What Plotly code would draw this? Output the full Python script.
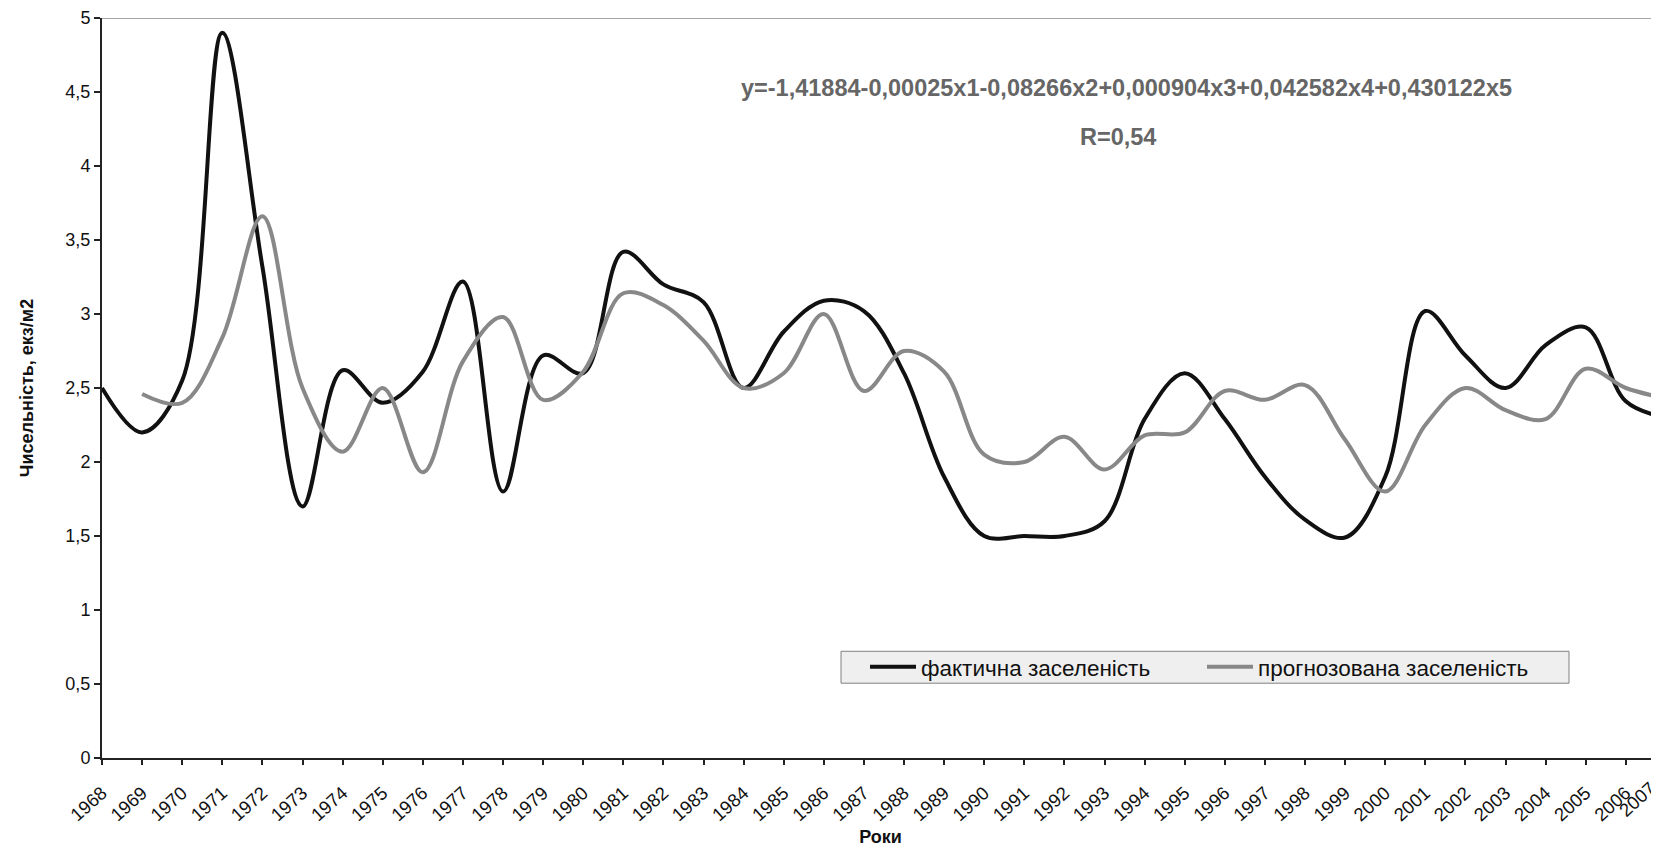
import plotly.graph_objects as go

years = list(range(1968, 2008))
year_labels = [str(y) for y in years]

actual = [2.5, 2.2, 2.55, 4.9, 3.32, 1.7, 2.62, 2.4, 2.61, 3.22,
          1.8, 2.72, 2.6, 3.42, 3.2, 3.08, 2.5, 2.88, 3.09, 3.02,
          2.6, 1.9, 1.5, 1.5, 1.5, 1.6, 2.29, 2.6, 2.29, 1.9,
          1.61, 1.49, 1.9, 3.02, 2.72, 2.5, 2.79, 2.91, 2.41, 2.3]

forecast_years = list(range(1969, 2008))
forecast = [2.46, 2.4, 2.84, 3.66, 2.5, 2.07, 2.5, 1.93, 2.68, 2.98,
            2.42, 2.61, 3.14, 3.06, 2.82, 2.5, 2.6, 3.0, 2.48, 2.75,
            2.61, 2.05, 2.0, 2.17, 1.95, 2.18, 2.2, 2.48, 2.42, 2.52,
            2.15, 1.8, 2.25, 2.5, 2.35, 2.29, 2.63, 2.5, 2.43]

y_ticks = [0, 0.5, 1, 1.5, 2, 2.5, 3, 3.5, 4, 4.5, 5]

FONT = "Liberation Sans, Arial, sans-serif"
OFF = 8                      # page body margin of the html page
IMG_W, IMG_H = 1659, 850
# plot area in screenshot pixels
PL, PR, PT, PB = 102, 1659, 16, 758
pw, ph = PR - PL, PB - PT
W, H = IMG_W - OFF, IMG_H - OFF
ML, MT = PL - OFF, PT - OFF
MR = W - (PR - OFF)
MB = H - (PB - OFF)
px_per_year = 40.1
x_max = 1968 + pw / px_per_year


def px(xi):
    return (xi - PL) / pw


def py(yi):
    return (PB - yi) / ph


fig = go.Figure()
fig.add_trace(go.Scatter(
    x=years, y=actual, mode="lines", name="фактична заселеність",
    line=dict(color="#111111", width=4, shape="spline", smoothing=1.0),
))
fig.add_trace(go.Scatter(
    x=forecast_years, y=forecast, mode="lines", name="прогнозована заселеність",
    line=dict(color="#888888", width=4, shape="spline", smoothing=1.0),
))

fig.update_layout(
    width=W, height=H,
    margin=dict(l=ML, r=MR, t=MT, b=MB),
    paper_bgcolor="white", plot_bgcolor="white",
    font=dict(family=FONT, size=18, color="#111111"),
    separators=", ",
    showlegend=True,
    legend=dict(
        orientation="h",
        x=px(865), xanchor="left",
        y=py(667), yanchor="middle",
        bgcolor="rgba(0,0,0,0)", borderwidth=0,
        font=dict(size=22.5, color="#111111"),
        itemwidth=46,
        entrywidth=276, entrywidthmode="pixels",
        traceorder="normal",
    ),
    xaxis=dict(
        range=[1968, x_max], tickmode="array", tickvals=years, ticktext=year_labels,
        tickangle=-42, showgrid=False, zeroline=False,
        showline=True, linecolor="#222222", linewidth=2,
        ticks="outside", ticklen=5, tickcolor="#222222", tickwidth=1.5,
        ticklabelstandoff=10,
        tickfont=dict(size=18.5, color="#111111"),
        title=dict(text="<b>Роки</b>", font=dict(size=18, color="#111111"), standoff=6),
    ),
    yaxis=dict(
        range=[0, 5], tickmode="array", tickvals=y_ticks,
        showgrid=False, zeroline=False,
        showline=True, linecolor="#222222", linewidth=2,
        ticks="outside", ticklen=6, tickcolor="#222222", tickwidth=1.5,
        ticklabeloverflow="allow",
        tickfont=dict(size=18, color="#111111"),
        title=dict(text="<b>Чисельність, екз/м2</b>", font=dict(size=18, color="#111111"), standoff=27),
    ),
)

# legend frame
fig.add_shape(type="rect", xref="paper", yref="paper",
              x0=px(841), x1=px(1569), y0=py(683), y1=py(651),
              fillcolor="#efefef", line=dict(color="#808080", width=1), layer="above")

# top border line at y = 5
fig.add_shape(type="line", xref="paper", yref="y", x0=0, x1=1, y0=5, y1=5,
              line=dict(color="#888888", width=1.5))

fig.add_annotation(text="<b>y=-1,41884-0,00025x1-0,08266x2+0,000904x3+0,042582x4+0,430122x5</b>",
                   xref="paper", yref="paper", x=px(1126), y=py(86),
                   xanchor="center", yanchor="middle", showarrow=False,
                   font=dict(size=23.5, color="#666666"))
fig.add_annotation(text="<b>R=0,54</b>",
                   xref="paper", yref="paper", x=px(1118), y=py(135),
                   xanchor="center", yanchor="middle", showarrow=False,
                   font=dict(size=23.5, color="#666666"))
# last category label: its tick lies just beyond the visible area
fig.add_annotation(text=year_labels[-1], xref="paper", yref="paper",
                   x=px(1637), y=py(800), textangle=-42,
                   xanchor="center", yanchor="middle", showarrow=False,
                   font=dict(size=18.5, color="#111111"))

fig.write_html("out.html")
